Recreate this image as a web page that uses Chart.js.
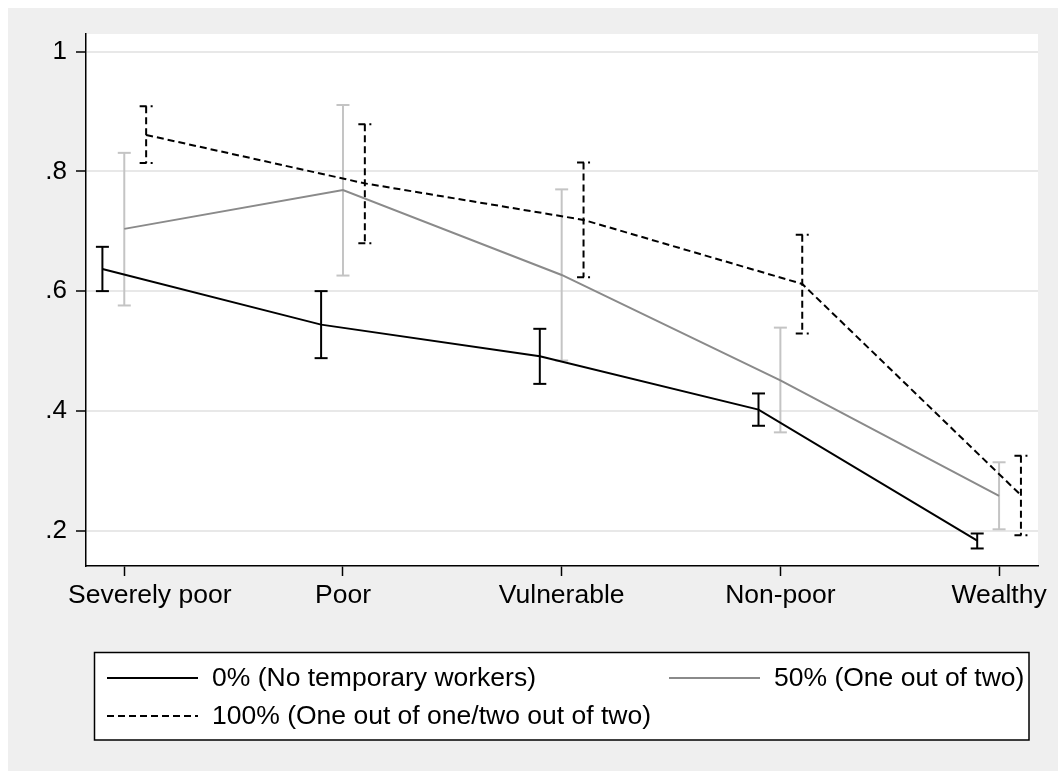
<!DOCTYPE html>
<html>
<head>
<meta charset="utf-8">
<script src="https://cdn.jsdelivr.net/npm/chart.js@4.4.1/dist/chart.umd.min.js"></script>
<style>
  html, body { margin: 0; padding: 0; background: #ffffff; }
  #wrap { width: 1058px; height: 771px; }
</style>
</head>
<body>
<div id="wrap"><canvas id="c" width="1058" height="771"></canvas></div>
<script>
// Household poverty status groups (x axis)
const categories = ['Severely poor', 'Poor', 'Vulnerable', 'Non-poor', 'Wealthy'];
const yTicks = [0.2, 0.4, 0.6, 0.8, 1];

// 0% (No temporary workers)
const share0 = [0.637, 0.544, 0.491, 0.402, 0.183];
const low0   = [0.600, 0.488, 0.445, 0.375, 0.170];
const high0  = [0.674, 0.600, 0.537, 0.429, 0.195];

// 50% (One out of two)
const share50 = [0.704, 0.769, 0.627, 0.451, 0.258];
const low50   = [0.576, 0.626, 0.484, 0.364, 0.202];
const high50  = [0.831, 0.911, 0.770, 0.539, 0.314];

// 100% (One out of one/two out of two)
const share100 = [0.861, 0.780, 0.719, 0.612, 0.259];
const low100   = [0.814, 0.680, 0.623, 0.529, 0.192];
const high100  = [0.909, 0.879, 0.815, 0.694, 0.325];

const seriesLabels = [
  '0% (No temporary workers)',
  '50% (One out of two)',
  '100% (One out of one/two out of two)'
];

const FONT = '"Liberation Sans", Arial, Helvetica, sans-serif';
const TEXT_SIZE = 26.5;

// each series is dodged slightly around its category position
function points(values, shift) {
  return values.map((v, i) => ({ x: i + 1 + shift, y: v }));
}

const datasets = [
  {
    label: seriesLabels[0], data: points(share0, -0.1),
    ciLow: low0, ciHigh: high0, shift: -0.1,
    borderColor: '#000000', borderWidth: 2, barColor: '#000000', dash: []
  },
  {
    label: seriesLabels[1], data: points(share50, 0),
    ciLow: low50, ciHigh: high50, shift: 0,
    borderColor: '#8a8a8a', borderWidth: 2, barColor: '#c4c4c4', dash: []
  },
  {
    label: seriesLabels[2], data: points(share100, 0.1),
    ciLow: low100, ciHigh: high100, shift: 0.1,
    borderColor: '#000000', borderWidth: 2, barColor: '#000000', dash: [7, 4],
    borderDash: [7, 4]
  }
].map(d => Object.assign({ pointRadius: 0, tension: 0, fill: false }, d));

// grey graph region with a white plot region
const backdrop = {
  id: 'backdrop',
  beforeDraw(chart) {
    const { ctx, chartArea: a } = chart;
    ctx.save();
    ctx.fillStyle = '#efefef';
    ctx.fillRect(8, 8, chart.width - 8, chart.height - 8);
    ctx.fillStyle = '#ffffff';
    ctx.fillRect(a.left, a.top, a.right - a.left, a.bottom - a.top);
    ctx.restore();
  }
};

// capped confidence-interval spikes
const ciBars = {
  id: 'ciBars',
  beforeDatasetsDraw(chart) {
    const { ctx, scales: { x, y } } = chart;
    ctx.save();
    chart.data.datasets.forEach(ds => {
      ctx.strokeStyle = ds.barColor;
      ctx.lineWidth = 2;
      ctx.setLineDash(ds.dash);
      ds.ciLow.forEach((lo, i) => {
        const px = x.getPixelForValue(i + 1 + ds.shift);
        const yHi = y.getPixelForValue(ds.ciHigh[i]);
        const yLo = y.getPixelForValue(lo);
        const cap = 6.5;
        ctx.beginPath();
        ctx.moveTo(px, yHi); ctx.lineTo(px, yLo);
        ctx.stroke();
        ctx.beginPath();
        ctx.moveTo(px - cap, yHi); ctx.lineTo(px + cap, yHi);
        ctx.stroke();
        ctx.beginPath();
        ctx.moveTo(px - cap, yLo); ctx.lineTo(px + cap, yLo);
        ctx.stroke();
      });
    });
    ctx.restore();
  }
};

// category names under the x axis ticks
const categoryLabels = {
  id: 'categoryLabels',
  afterDraw(chart) {
    const { ctx, chartArea: a, scales: { x } } = chart;
    ctx.save();
    ctx.font = TEXT_SIZE + 'px ' + FONT;
    ctx.fillStyle = '#000';
    ctx.textAlign = 'center';
    ctx.textBaseline = 'alphabetic';
    categories.forEach((name, i) => {
      const w = ctx.measureText(name).width;
      let px = x.getPixelForValue(i + 1);
      px = Math.max(px, a.left - 18 + w / 2);
      ctx.fillText(name, px, a.bottom + 37);
    });
    ctx.restore();
  }
};

// boxed legend below the plot
const boxLegend = {
  id: 'boxLegend',
  afterDraw(chart) {
    const { ctx } = chart;
    const ds = chart.data.datasets;
    const box = { x: 94.5, y: 652.5, w: 934.5, h: 87.5 };
    ctx.save();
    ctx.fillStyle = '#ffffff';
    ctx.fillRect(box.x, box.y, box.w, box.h);
    ctx.strokeStyle = '#000';
    ctx.lineWidth = 1.5;
    ctx.strokeRect(box.x, box.y, box.w, box.h);
    const slots = [
      { i: 0, x: 107, y: 678 },
      { i: 1, x: 669, y: 678 },
      { i: 2, x: 107, y: 716 }
    ];
    ctx.font = TEXT_SIZE + 'px ' + FONT;
    ctx.textBaseline = 'middle';
    ctx.textAlign = 'left';
    slots.forEach(s => {
      const d = ds[s.i];
      ctx.strokeStyle = d.borderColor;
      ctx.lineWidth = 2;
      ctx.setLineDash(d.dash);
      ctx.beginPath();
      ctx.moveTo(s.x, s.y); ctx.lineTo(s.x + 91, s.y);
      ctx.stroke();
      ctx.setLineDash([]);
      ctx.fillStyle = '#000';
      ctx.fillText(d.label, s.x + 105, s.y + 1);
    });
    ctx.restore();
  }
};

new Chart(document.getElementById('c'), {
  type: 'line',
  data: { datasets },
  plugins: [backdrop, ciBars, categoryLabels, boxLegend],
  options: {
    responsive: false,
    animation: false,
    devicePixelRatio: 1,
    layout: { padding: { top: 34, right: 20, left: 0, bottom: 0 } },
    plugins: { legend: { display: false }, tooltip: { enabled: false } },
    scales: {
      x: {
        type: 'linear', min: 0.825, max: 5.178,
        afterBuildTicks: s => { s.ticks = categories.map((c, i) => ({ value: i + 1 })); },
        ticks: { display: false },
        grid: { drawOnChartArea: false, tickLength: 10, tickColor: '#000', tickWidth: 1.5 },
        border: { color: '#000', width: 1.5 },
        afterFit: s => { s.height = 205; }
      },
      y: {
        min: 0.1407, max: 1.0296,
        afterBuildTicks: s => { s.ticks = yTicks.map(v => ({ value: v })); },
        ticks: {
          color: '#000',
          font: { size: 26, family: FONT },
          padding: 9,
          callback: v => (v === 1 ? '1' : v.toFixed(1).replace(/^0/, ''))
        },
        grid: { color: '#e8e8e8', lineWidth: 2, tickColor: '#000', tickLength: 10, tickWidth: 1.5 },
        border: { color: '#000', width: 1.5 },
        afterFit: s => { s.width = 86; }
      }
    }
  }
});
</script>
</body>
</html>
